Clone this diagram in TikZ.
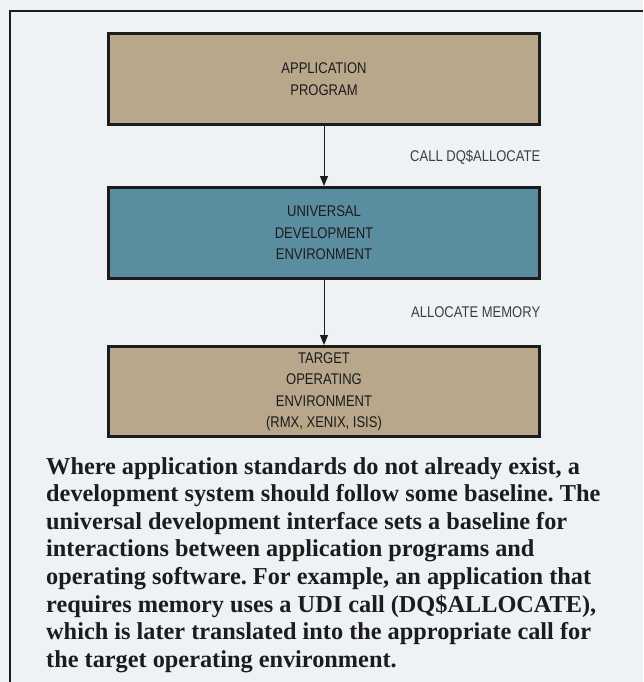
\documentclass[tikz,border=0pt]{standalone}
\usepackage{fontspec}
\usetikzlibrary{arrows.meta}
\newfontfamily\condsans[FakeStretch=0.84]{Liberation Sans}
\newfontfamily\bodyserif{Liberation Serif}
\definecolor{bgc}{HTML}{EEF2F5}
\definecolor{tanc}{HTML}{B8A78A}
\definecolor{tealc}{HTML}{5A8D9F}
\definecolor{inkc}{HTML}{1C1C1C}
\frenchspacing
\tikzset{
  blk/.style={draw=inkc, line width=3pt, minimum width=431pt, inner sep=0pt, align=center,
    font=\condsans\fontsize{15.5}{21.5}\selectfont, text=inkc},
  lbl/.style={anchor=west, inner sep=0pt, font=\condsans\fontsize{15.5}{18}\selectfont, text=inkc!85},
  arr/.style={draw=inkc, line width=1pt, -{Triangle[length=10pt,width=8pt]}},
  body/.style={anchor=north west, inner sep=0pt, align=left, text=inkc,
    font=\bodyserif\bfseries\fontsize{24.3}{27.6}\selectfont}
}
\begin{document}
\begin{tikzpicture}[x=1pt,y=-1pt]
\fill[bgc] (0,0) rectangle (643,682);
\useasboundingbox (0,0) rectangle (643,682);
\draw[inkc, line width=1.6pt] (10,682) -- (10,11) -- (643,11);
\node[blk, fill=tanc, minimum height=91pt] (app) at (324,79) {APPLICATION\\PROGRAM};
\node[blk, fill=tealc, minimum height=91pt] (ude) at (324,233) {UNIVERSAL\\DEVELOPMENT\\ENVIRONMENT};
\node[blk, fill=tanc, minimum height=90pt] (toe) at (324,391.5) {TARGET\\OPERATING\\ENVIRONMENT\\(RMX, XENIX, ISIS)};
\draw[arr] (app) -- (ude);
\draw[arr] (ude) -- (toe);
\node[lbl] (l1) at (410,157) {CALL DQ\$ALLOCATE};
\node[lbl] (l2) at (411,312) {ALLOCATE MEMORY};
\node[body] (txt) at (46,457) {Where application standards do not already exist, a\\
development system should follow some baseline. The\\
universal development interface sets a baseline for\\
interactions between application programs and\\
operating software. For example, an application that\\
requires memory uses a UDI call (DQ\$ALLOCATE),\\
which is later translated into the appropriate call for\\
the target operating environment.};
\end{tikzpicture}
\end{document}
